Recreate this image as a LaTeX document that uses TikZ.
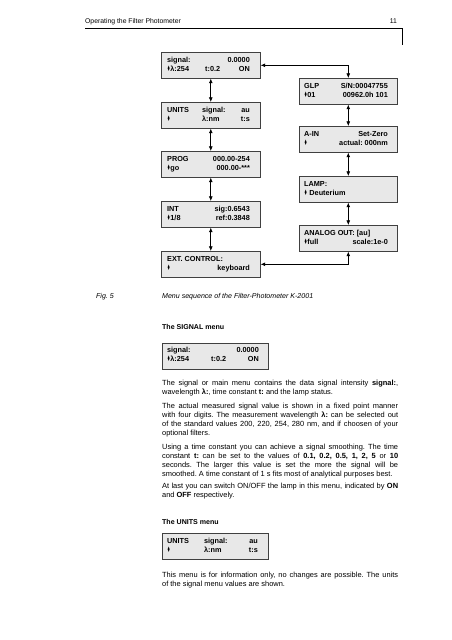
\documentclass[tikz,border=0pt]{standalone}
\usepackage{fontspec}
\setmainfont{Liberation Sans}
\newfontfamily\djv{DejaVu Sans}
\usepackage{graphicx}
\usetikzlibrary{arrows.meta}
\frenchspacing
\newcommand\updn{\raisebox{0.1ex}{\scalebox{0.5}[1.05]{\djv ♦}}}
\newcommand\jline[1]{\makebox[310.7pt][s]{#1}}
\begin{document}
\begin{tikzpicture}[x=1.3165pt,y=-1.3165pt,
  mbox/.style={draw=black!75, line width=0.8pt, fill=black!9, inner sep=0, anchor=north west, minimum height=34.2pt},
  lw/.style={mbox, minimum width=130.3pt},
  rw/.style={mbox, minimum width=129pt},
  bw/.style={mbox, minimum width=139.5pt},
  tl/.style={font=\bfseries\fontsize{9.6}{11}\selectfont, inner sep=0, anchor=base west},
  tr/.style={tl, anchor=base east},
  body/.style={font=\fontsize{9.8}{11}\selectfont, inner sep=0, anchor=base west},
  link/.style={line width=0.8pt, {Latex[length=6pt,width=5pt]}-{Latex[length=6pt,width=5pt]}}]
\useasboundingbox[fill=white] (0,0) rectangle (452,640);

% header
\node[body, font=\fontsize{9}{11}\selectfont] (hd) at (85,24) {Operating the Filter Photometer};
\node[body, anchor=base east, font=\fontsize{9}{11}\selectfont] (pg) at (397,24) {11};
\coordinate (h1) at (85,28);
\coordinate (h2) at (402,28);
\coordinate (h3) at (402,45);
\draw[line width=0.8pt] (h1) -- (h2) -- (h3);

% left column
\node[lw] (sig) at (161,52) {};
\node[lw] (uni) at (161,102) {};
\node[lw] (prg) at (161,151) {};
\node[lw] (int) at (161,201) {};
\node[lw] (ext) at (161,251) {};
% right column
\node[rw] (glp) at (299,78) {};
\node[rw] (ain) at (299,126) {};
\node[rw] (lmp) at (299,176) {};
\node[rw] (ana) at (299,225) {};

% connectors
\draw[link] (sig.east) -- (sig.east -| glp.north) -- (glp.north);
\draw[link] (sig.south) -- (uni.north);
\draw[link] (uni.south) -- (prg.north);
\draw[link] (prg.south) -- (int.north);
\draw[link] (int.south) -- (ext.north);
\draw[link] (glp.south) -- (ain.north);
\draw[link] (ain.south) -- (lmp.north);
\draw[link] (lmp.south) -- (ana.north);
\draw[link] (ext.east) -- (ext.east -| ana.south) -- (ana.south);

% box texts
\node[tl] (s1) at (167,62.5) {signal:};
\node[tr] (s2) at (250,62.5) {0.0000};
\node[tl] (s3) at (167,71.5) {\updn λ:254};
\node[tl] (s4) at (205,71.5) {t:0.2};
\node[tr] (s5) at (250,71.5) {ON};

\node[tl] (u1) at (167,112.5) {UNITS};
\node[tl] (u2) at (202,112.5) {signal:};
\node[tr] (u3) at (250,112.5) {au};
\node[tl] (u4) at (167,121.5) {\updn};
\node[tl] (u5) at (202,121.5) {λ:nm};
\node[tr] (u6) at (250,121.5) {t:s};

\node[tl] (p1) at (167,161.5) {PROG};
\node[tr] (p2) at (250,161.5) {000.00-254};
\node[tl] (p3) at (167,170.5) {\updn go};
\node[tr] (p4) at (250,170.5) {000.00-***};

\node[tl] (i1) at (167,211.5) {INT};
\node[tr] (i2) at (250,211.5) {sig:0.6543};
\node[tl] (i3) at (167,220.5) {\updn 1/8};
\node[tr] (i4) at (250,220.5) {ref:0.3848};

\node[tl] (e1) at (167,261.5) {EXT. CONTROL:};
\node[tl] (e2) at (167,270.5) {\updn};
\node[tr] (e3) at (250,270.5) {keyboard};

\node[tl] (g1) at (304,88.5) {GLP};
\node[tr] (g2) at (388,88.5) {S/N:00047755};
\node[tl] (g3) at (304,97.5) {\updn 01};
\node[tr] (g4) at (388,97.5) {00962.0h 101};

\node[tl] (a1) at (304,136.5) {A-IN};
\node[tr] (a2) at (388,136.5) {Set-Zero};
\node[tl] (a3) at (304,145.5) {\updn};
\node[tr] (a4) at (388,145.5) {actual: 000nm};

\node[tl] (m1) at (304,186.5) {LAMP:};
\node[tl] (m2) at (304,195.5) {\updn\ Deuterium};

\node[tl] (n1) at (304,235.5) {ANALOG OUT: [au]};
\node[tl] (n2) at (304,244.5) {\updn full};
\node[tr] (n3) at (388,244.5) {scale:1e-0};

% caption
\node[body, font=\itshape\fontsize{9.3}{11}\selectfont] (cf) at (96,298) {Fig. 5};
\node[body, font=\itshape\fontsize{9.3}{11}\selectfont] (ct) at (162,298) {Menu sequence of the Filter-Photometer K-2001};

% SIGNAL menu
\node[body, font=\bfseries\fontsize{9.3}{11}\selectfont] (t1) at (162,329) {The SIGNAL menu};
\node[bw] (sig2) at (162,343) {};
\node[tl] (v1) at (167,352.5) {signal:};
\node[tr] (v2) at (259,352.5) {0.0000};
\node[tl] (v3) at (167,361.5) {\updn λ:254};
\node[tl] (v4) at (211,361.5) {t:0.2};
\node[tr] (v5) at (259,361.5) {ON};

\node[body] (l1) at (162,385.5) {\jline{The signal or main menu contains the data signal intensity \textbf{signal:},}};
\node[body] (l2) at (162,394.5) {wavelength \textbf{λ:}, time constant \textbf{t:} and the lamp status.};
\node[body] (l3) at (162,408.5) {\jline{The actual measured signal value is shown in a fixed point manner}};
\node[body] (l4) at (162,417.5) {\jline{with four digits. The measurement wavelength \textbf{λ:} can be selected out}};
\node[body] (l5) at (162,426.5) {\jline{of the standard values 200, 220, 254, 280 nm, and if choosen of your}};
\node[body] (l6) at (162,435.5) {optional filters.};
\node[body] (l7) at (162,449.5) {\jline{Using a time constant you can achieve a signal smoothing. The time}};
\node[body] (l8) at (162,458.5) {\jline{constant \textbf{t:} can be set to the values of \textbf{0.1, 0.2, 0.5, 1, 2, 5} or \textbf{10}}};
\node[body] (l9) at (162,467.5) {\jline{seconds. The larger this value is set the more the signal will be}};
\node[body] (l10) at (162,476.5) {smoothed. A time constant of 1 s fits most of analytical purposes best.};
\node[body] (l11) at (162,488.5) {\jline{At last you can switch ON/OFF the lamp in this menu, indicated by \textbf{ON}}};
\node[body] (l12) at (162,497.5) {and \textbf{OFF} respectively.};

% UNITS menu
\node[body, font=\bfseries\fontsize{9.3}{11}\selectfont] (t2) at (162,524.5) {The UNITS menu};
\node[bw] (uni2) at (162,533) {};
\node[tl] (w1) at (167,543.5) {UNITS};
\node[tl] (w2) at (204,543.5) {signal:};
\node[tr] (w3) at (258,543.5) {au};
\node[tl] (w4) at (167,552.5) {\updn};
\node[tl] (w5) at (204,552.5) {λ:nm};
\node[tr] (w6) at (258,552.5) {t:s};

\node[body] (l13) at (162,577.5) {\jline{This menu is for information only, no changes are possible. The units}};
\node[body] (l14) at (162,586.5) {of the signal menu values are shown.};
\end{tikzpicture}
\end{document}
